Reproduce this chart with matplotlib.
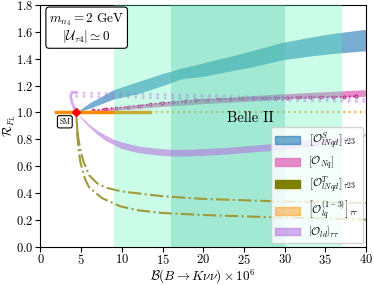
import matplotlib
matplotlib.use("Agg")
import matplotlib.pyplot as plt
from matplotlib.patches import Patch

plt.rcParams['font.family'] = 'serif'
plt.rcParams['font.serif'] = ['cmr10']
plt.rcParams['mathtext.fontset'] = 'cm'
plt.rcParams['axes.formatter.use_mathtext'] = True

# SM point
sm_x, sm_y = 4.4, 1.0

# [O^S_lNqd] band (blue)
blue_x = [4.4, 6, 9, 12, 15, 17.3, 20, 23.4, 26, 29.5, 33, 36, 40]
blue_hi = [1.0, 1.07, 1.17, 1.23, 1.29, 1.33, 1.37, 1.42, 1.46, 1.52, 1.56, 1.59, 1.62]
blue_lo = [1.0, 1.03, 1.10, 1.14, 1.20, 1.25, 1.27, 1.31, 1.34, 1.39, 1.42, 1.44, 1.46]

# [O_Nq] band (pink)
pink_x = [4.4, 10, 15, 20, 26, 30, 35, 40]
pink_hi = [1.0, 1.045, 1.08, 1.10, 1.125, 1.14, 1.155, 1.17]
pink_lo = [1.0, 1.02, 1.045, 1.065, 1.085, 1.10, 1.11, 1.12]
# dotted magenta line with markers
mag_x = [6.5, 7.9, 9.3, 10.7, 12.1, 13.5, 14.9, 16.3, 17.7, 19.1, 20.5, 21.9,
         23.3, 24.7, 26.1, 27.5, 28.9, 30.3, 31.7, 33.1, 34.5, 35.9, 37.3, 38.7]
mag_y = [1.015, 1.025, 1.035, 1.04, 1.05, 1.06, 1.07, 1.075, 1.085, 1.09, 1.095, 1.10,
         1.10, 1.105, 1.105, 1.108, 1.11, 1.11, 1.112, 1.113, 1.115, 1.116, 1.118, 1.12]

# [O^T_lNqd] (olive), two dash-dot branches
olive_sx = [4.4, 4.55]
olive_sy = [1.0, 0.85]
olive_up_x = [4.55, 4.9, 5.3, 6.0, 7.0, 8.0, 10, 15, 20, 25, 30, 35, 40]
olive_up_y = [0.85, 0.72, 0.63, 0.53, 0.47, 0.44, 0.41, 0.375, 0.355, 0.345, 0.335, 0.33, 0.325]
olive_lo_x = [4.5, 4.7, 4.9, 5.5, 6.0, 7.6, 9.8, 12, 15, 20, 25, 30, 35, 40]
olive_lo_y = [0.85, 0.72, 0.63, 0.50, 0.44, 0.36, 0.30, 0.27, 0.25, 0.235, 0.225, 0.215, 0.21, 0.20]

# [O_lq^(1-3)] (orange)
orange_solid_x = [1.9, 13.4]
orange_dot_x = [13.4, 40]
orange_y = [1.0, 1.0]

# [O_ld] (lilac)
lil_x = [4.4, 5.0, 5.5, 6.0, 7.0, 8.0, 9.0, 10, 12, 14, 16, 18, 20, 23, 26, 30, 33, 37]
lil_hi = [1.0, 0.965, 0.94, 0.91, 0.865, 0.83, 0.80, 0.78, 0.75, 0.735, 0.725, 0.725,
          0.73, 0.74, 0.755, 0.775, 0.795, 0.82]
lil_lo = [1.0, 0.955, 0.92, 0.89, 0.835, 0.79, 0.76, 0.73, 0.70, 0.685, 0.675, 0.675,
          0.68, 0.69, 0.705, 0.725, 0.745, 0.775]
lil_tail_x = [37, 40]
lil_tail_y = [0.80, 0.83]
hook_x = [4.4, 3.9, 3.7, 3.9, 4.3]
hook_y = [1.0, 1.07, 1.12, 1.15, 1.15]
lil_dot_x = [4.3, 10, 20, 30, 40]
lil_dot_hi = [1.145, 1.14, 1.125, 1.11, 1.10]
lil_dot_lo = [1.12, 1.115, 1.10, 1.09, 1.08]

c_blue = '#1f77b4'
c_pink = '#e377c2'
c_olive = '#a09a3a'
c_orange = 'darkorange'
c_lil = '#b46be0'

fig = plt.figure(figsize=(3.74, 2.85), dpi=100)
ax = fig.add_axes([0.108, 0.135, 0.871, 0.847])

ax.fill_between(blue_x, blue_lo, blue_hi, color=c_blue, alpha=0.6, lw=0)
ax.fill_between(pink_x, pink_lo, pink_hi, color=c_pink, alpha=0.85, lw=0)
ax.plot(mag_x, mag_y, ls=':', color='#d0108a', lw=1.2, marker='o', ms=2,
        mfc='#f6b6dc', mec='#c0107a', mew=0.7)

ax.plot(orange_solid_x, orange_y, color=c_orange, lw=2.5)
ax.plot(orange_dot_x, orange_y, color=c_orange, lw=1.5, ls=':', alpha=0.7)

# Belle II bands
ax.axvspan(9, 37, color='#55f8b6', alpha=0.3, lw=0, zorder=5)
ax.axvspan(16, 30, color='#43bea3', alpha=0.3, lw=0, zorder=5)
ax.text(25.8, 0.955, 'Belle II', ha='center', va='center', fontsize=10.5, zorder=6)

ax.plot(olive_sx, olive_sy, color=c_olive, lw=1.5, zorder=6)
ax.plot(olive_up_x, olive_up_y, color=c_olive, lw=1.5, ls='-.', zorder=6)
ax.plot(olive_lo_x, olive_lo_y, color=c_olive, lw=1.5, ls='-.', zorder=6)

ax.fill_between(lil_x, lil_lo, lil_hi, color=c_lil, alpha=0.55, lw=0, zorder=6)
ax.plot(hook_x, hook_y, color=c_lil, alpha=0.55, lw=2, zorder=6)
ax.plot(lil_dot_x, lil_dot_hi, color=c_lil, alpha=0.4, lw=2, ls=':', zorder=6)
ax.plot(lil_dot_x, lil_dot_lo, color=c_lil, alpha=0.4, lw=2, ls=':', zorder=6)
ax.plot(lil_tail_x, lil_tail_y, color=c_lil, alpha=0.45, lw=2, ls=':', zorder=6)

ax.plot([sm_x], [sm_y], marker='D', color='red', ms=4.5, zorder=7)
ax.text(3.0, 0.93, 'SM', fontsize=5.5, ha='center', va='center', zorder=7,
        bbox=dict(boxstyle='round,pad=0.25', fc='white', ec='black', lw=0.8))

ax.text(0.027, 0.975, '$m_{n_4} = 2\\ \\mathrm{GeV}$\n$|\\mathcal{U}_{\\tau 4}| \\simeq 0$',
        transform=ax.transAxes, ha='left', va='top', multialignment='center', fontsize=9.5,
        linespacing=1.0, zorder=8,
        bbox=dict(boxstyle='round,pad=0.25', fc='white', ec='black', lw=0.8))

handles = [Patch(color=c_blue, alpha=0.6), Patch(color=c_pink, alpha=0.85),
           Patch(color='olive'), Patch(color=c_orange, alpha=0.45),
           Patch(color=c_lil, alpha=0.55)]
labels = ['$\\left[\\mathcal{O}^{S}_{lNqd}\\right]_{\\tau 23}$',
          '$\\left[\\mathcal{O}_{Nq}\\right]$',
          '$\\left[\\mathcal{O}^{T}_{lNqd}\\right]_{\\tau 23}$',
          '$\\left[\\mathcal{O}^{(1-3)}_{lq}\\right]_{\\tau\\tau}$',
          '$\\left[\\mathcal{O}_{ld}\\right]_{\\tau\\tau}$']
leg = ax.legend(handles, labels, loc='lower right', fontsize=8, borderaxespad=0.3,
                labelspacing=0.3, handlelength=2.2, borderpad=0.35)
leg.set_zorder(9)

ax.set_xlim(0, 40)
ax.set_ylim(0, 1.8)
ax.set_xticks(range(0, 41, 5))
ax.set_yticks([0.0, 0.2, 0.4, 0.6, 0.8, 1.0, 1.2, 1.4, 1.6, 1.8])
ax.tick_params(labelsize=9, pad=1.5)
ax.set_xlabel('$\\mathcal{B}(B\\to K\\nu\\nu)\\times 10^6$', fontsize=9.5)
ax.set_ylabel('$\\mathcal{R}_{F_L}$', fontsize=9)
ax.xaxis.set_label_coords(0.5, -0.088)
ax.yaxis.set_label_coords(-0.07, 0.5)

fig.savefig('out.png', dpi=100)
